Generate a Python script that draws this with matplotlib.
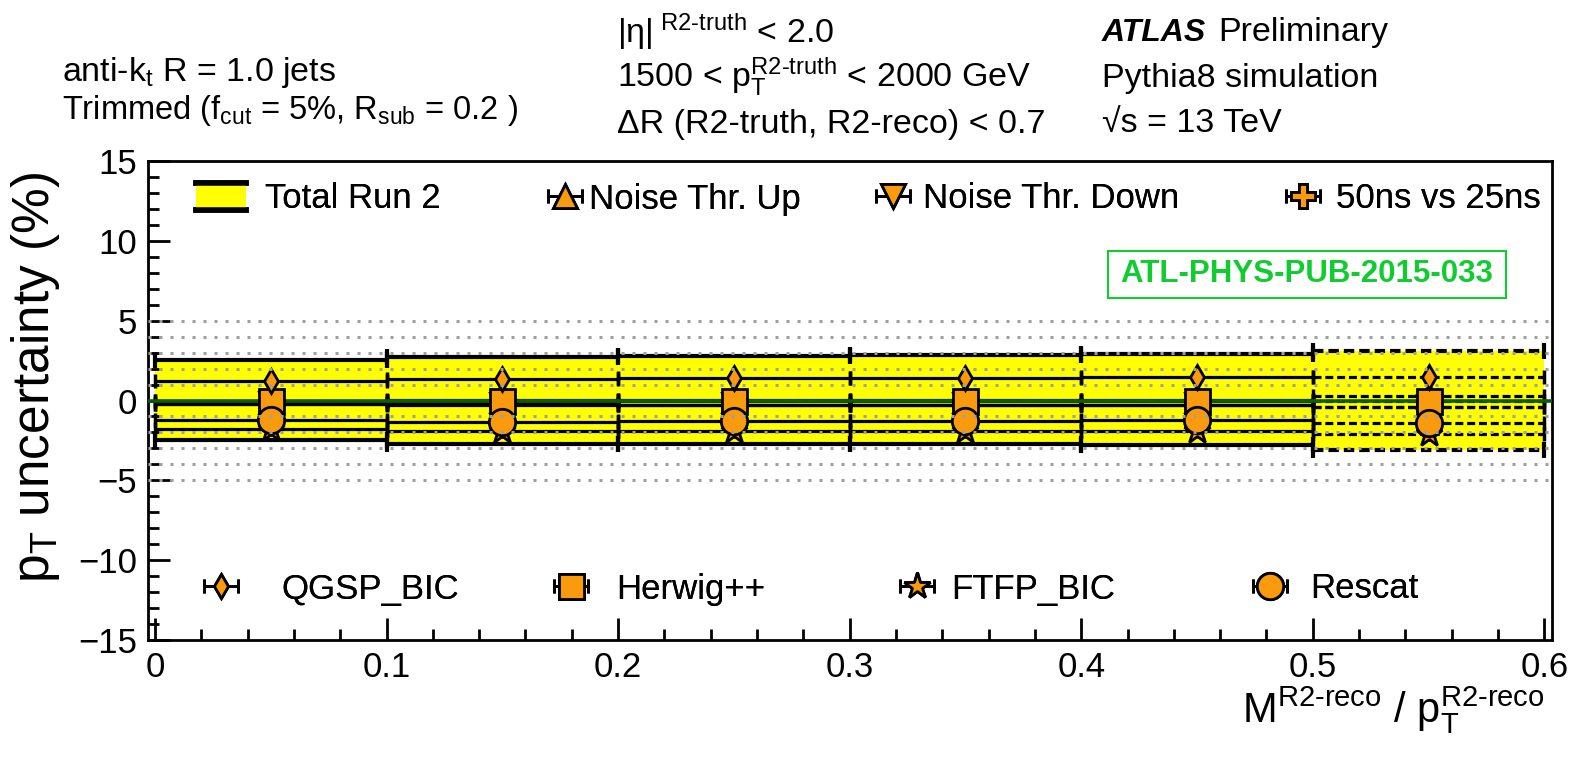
import matplotlib
matplotlib.use("Agg")
import matplotlib.pyplot as plt
from matplotlib.legend_handler import HandlerBase
from matplotlib.patches import Rectangle
from matplotlib.lines import Line2D
from matplotlib.ticker import MultipleLocator

plt.rcParams['font.family'] = ['Liberation Sans', 'DejaVu Sans']
plt.rcParams['mathtext.fontset'] = 'custom'
plt.rcParams['mathtext.rm'] = 'Liberation Sans'
plt.rcParams['mathtext.it'] = 'Liberation Sans:italic'
plt.rcParams['mathtext.bf'] = 'Liberation Sans:bold'

# bins in M / pT
bin_lo = [0.0, 0.1, 0.2, 0.3, 0.4, 0.5]
bin_hi = [0.1, 0.2, 0.3, 0.4, 0.5, 0.6]

# relative pT uncertainty (%)
total_up = [2.55, 2.75, 2.8, 2.85, 2.9, 3.1]
total_down = [-2.5, -2.7, -2.7, -2.75, -2.8, -3.1]
noise_up = [0.0, 0.05, 0.05, 0.05, 0.05, 0.3]
noise_down = [-0.2, -0.3, -0.3, -0.3, -0.3, -0.4]
ns50_vs_25 = [-0.2, -0.25, -0.3, -0.3, -0.3, -0.4]
qgsp_bic = [1.2, 1.35, 1.4, 1.4, 1.5, 1.5]
herwig = [0.0, -0.05, -0.05, -0.05, -0.05, -0.05]
ftfp_bic = [-1.8, -1.9, -1.9, -1.9, -1.9, -2.1]
rescat = [-1.25, -1.35, -1.3, -1.3, -1.25, -1.4]

W, H = 1577, 758
ORANGE = '#f99b0c'
LAST_DASH = (0, (2.5, 1.2))


def fx(px):
    return px / W


def fy(py):
    return 1 - py / H


class BandHandler(HandlerBase):
    def create_artists(self, legend, orig_handle, xdescent, ydescent,
                       width, height, fontsize, trans):
        x0, y0 = -xdescent, -ydescent
        rect = Rectangle((x0, y0), width, height, facecolor='yellow',
                         edgecolor='none', transform=trans)
        top = Line2D([x0, x0 + width], [y0 + height] * 2, color='k', lw=4, transform=trans)
        bot = Line2D([x0, x0 + width], [y0] * 2, color='k', lw=4, transform=trans)
        return [rect, top, bot]


fig = plt.figure(figsize=(W / 100, H / 100), dpi=100)
ax = fig.add_axes([fx(148), fy(640), fx(1552) - fx(148), fy(161) - fy(640)])

centers = [(a + b) / 2 for a, b in zip(bin_lo, bin_hi)]
half = [(b - a) / 2 for a, b in zip(bin_lo, bin_hi)]

# total band
ax.bar(centers, [u - d for u, d in zip(total_up, total_down)], bottom=total_down,
       width=[2 * h for h in half], color='yellow', edgecolor='none', zorder=1)
for vals in (total_up, total_down):
    eb = ax.errorbar(centers, vals, xerr=half, fmt='none', ecolor='k',
                     elinewidth=3, capsize=6, capthick=3, zorder=3)
    eb.lines[2][0].set_linestyles(['solid'] * 5 + [LAST_DASH])

series = [
    (noise_up, '^', 17, 'Noise Thr. Up'),
    (noise_down, 'v', 17, 'Noise Thr. Down'),
    (ns50_vs_25, 'P', 17, '50ns vs 25ns'),
    (ftfp_bic, '*', 20, 'FTFP_BIC'),
    (herwig, 's', 18, 'Herwig++'),
    (qgsp_bic, 'd', 12, 'QGSP_BIC'),
    (rescat, 'o', 19, 'Rescat'),
]
# horizontal bars of each variation
for vals, mk, ms, lab in series:
    eb = ax.errorbar(centers, vals, xerr=half, fmt='none', ecolor='k',
                     elinewidth=2.3, capsize=5, capthick=2.5, zorder=3)
    eb.lines[2][0].set_linestyles(['solid'] * 5 + [LAST_DASH])

ax.axhline(0, color='#0b5d0b', lw=2.6, zorder=4)

# markers on top, kept as errorbar containers for the legend keys
handles = {}
for i, (vals, mk, ms, lab) in enumerate(series):
    eb = ax.errorbar(centers, vals, xerr=[[0] * 6, [0] * 6], fmt=mk, ms=ms, mfc=ORANGE,
                     mec='k', mew=2, ecolor='k', elinewidth=2, capsize=5, capthick=2,
                     zorder=6 + i)
    handles[lab] = eb

# dotted reference lines
for yv in range(-5, 6):
    if yv != 0:
        ax.axhline(yv, color='#a0a0a0', lw=2.2, ls=(0, (1, 2.6)), zorder=20)

ax.set_xlim(-0.003, 0.6033)
ax.set_ylim(-15, 15)
ax.xaxis.set_minor_locator(MultipleLocator(0.02))
ax.yaxis.set_minor_locator(MultipleLocator(1))
ax.set_xticks([0, 0.1, 0.2, 0.3, 0.4, 0.5, 0.6])
ax.set_xticklabels(['0', '0.1', '0.2', '0.3', '0.4', '0.5', '0.6'])
ax.set_yticks([-15, -10, -5, 0, 5, 10, 15])
ax.set_yticklabels(['\u221215', '\u221210', '\u22125', '0', '5', '10', '15'])
ax.tick_params(which='both', direction='in', width=2, labelsize=25)
ax.tick_params(which='major', length=16, pad=8)
ax.tick_params(which='minor', length=8)
for s in ax.spines.values():
    s.set_linewidth(2)

fig.text(fx(36), fy(378), 'p$_{\\mathrm{T}}$ uncertainty (%)', fontsize=37,
         rotation=90, ha='center', va='center')
fig.text(fx(1545), fy(722), 'M$^{\\text{R2-reco}}$ / p$_{\\mathrm{T}}^{\\text{R2-reco}}$',
         fontsize=30, ha='right', va='baseline')

# legend entries, one per key: label, key, handle left px, centre y px, length, pad
leg_fs = 25
entries = [
    ('Total Run 2', None, 196, 199, 1.45, 0.55),
    ('Noise Thr. Up', 'Noise Thr. Up', 546, 199, 1.1, 0.15),
    ('Noise Thr. Down', 'Noise Thr. Down', 874, 199, 1.1, 0.3),
    ('50ns vs 25ns', '50ns vs 25ns', 1284, 199, 1.1, 0.4),
    ('QGSP_BIC', 'QGSP_BIC', 202, 589, 1.1, 1.2),
    ('Herwig++', 'Herwig++', 552, 589, 1.1, 0.75),
    ('FTFP_BIC', 'FTFP_BIC', 898, 589, 1.1, 0.43),
    ('Rescat', 'Rescat', 1251, 589, 1.1, 0.6),
]
band_key = Rectangle((0, 0), 1, 1)
for lab, key, x0, y0, hl, pad in entries:
    h = band_key if key is None else handles[key]
    leg = fig.legend([h], [lab], loc='center left', bbox_to_anchor=(fx(x0), fy(y0)),
                     bbox_transform=fig.transFigure, frameon=False, borderpad=0,
                     borderaxespad=0, handlelength=hl, handleheight=0.8,
                     handletextpad=pad, fontsize=leg_fs,
                     handler_map={Rectangle: BandHandler()})
    fig.add_artist(leg)

# header texts
fs = 24.5
fig.text(fx(62), fy(72), 'anti-k$_{\\mathrm{t}}$ R = 1.0 jets', fontsize=fs, va='center')
fig.text(fx(62), fy(110), 'Trimmed (f$_{\\mathrm{cut}}$ = 5%, R$_{\\mathrm{sub}}$ = 0.2 )',
         fontsize=23.5, va='center')
fig.text(fx(617), fy(32), '|\u03b7|$^{\\text{ R2-truth}}$ < 2.0', fontsize=fs, va='center')
fig.text(fx(617), fy(77), '1500 < p$_{\\mathrm{T}}^{\\text{R2-truth}}$ < 2000 GeV',
         fontsize=fs, va='center')
fig.text(fx(617), fy(124), '\u0394R (R2-truth, R2-reco) < 0.7', fontsize=fs, va='center')
fig.text(fx(1102), fy(33), 'ATLAS', fontsize=23, fontweight='bold', fontstyle='italic',
         va='center')
fig.text(fx(1218), fy(33), 'Preliminary', fontsize=fs, va='center')
fig.text(fx(1102), fy(78), 'Pythia8 simulation', fontsize=fs, va='center')
fig.text(fx(1102), fy(124), '\u221as = 13 TeV', fontsize=fs, va='center')

# note box
fig.patches.append(Rectangle((fx(1108), fy(298)), fx(1506) - fx(1108), fy(251) - fy(298),
                             transform=fig.transFigure, fill=False,
                             edgecolor='#10cc30', lw=1.5, zorder=30))
fig.text(fx(1307), fy(274), 'ATL-PHYS-PUB-2015-033', fontsize=22.5, fontweight='bold',
         color='#10cc30', ha='center', va='center', zorder=31)

fig.savefig('out.png', dpi=100)
